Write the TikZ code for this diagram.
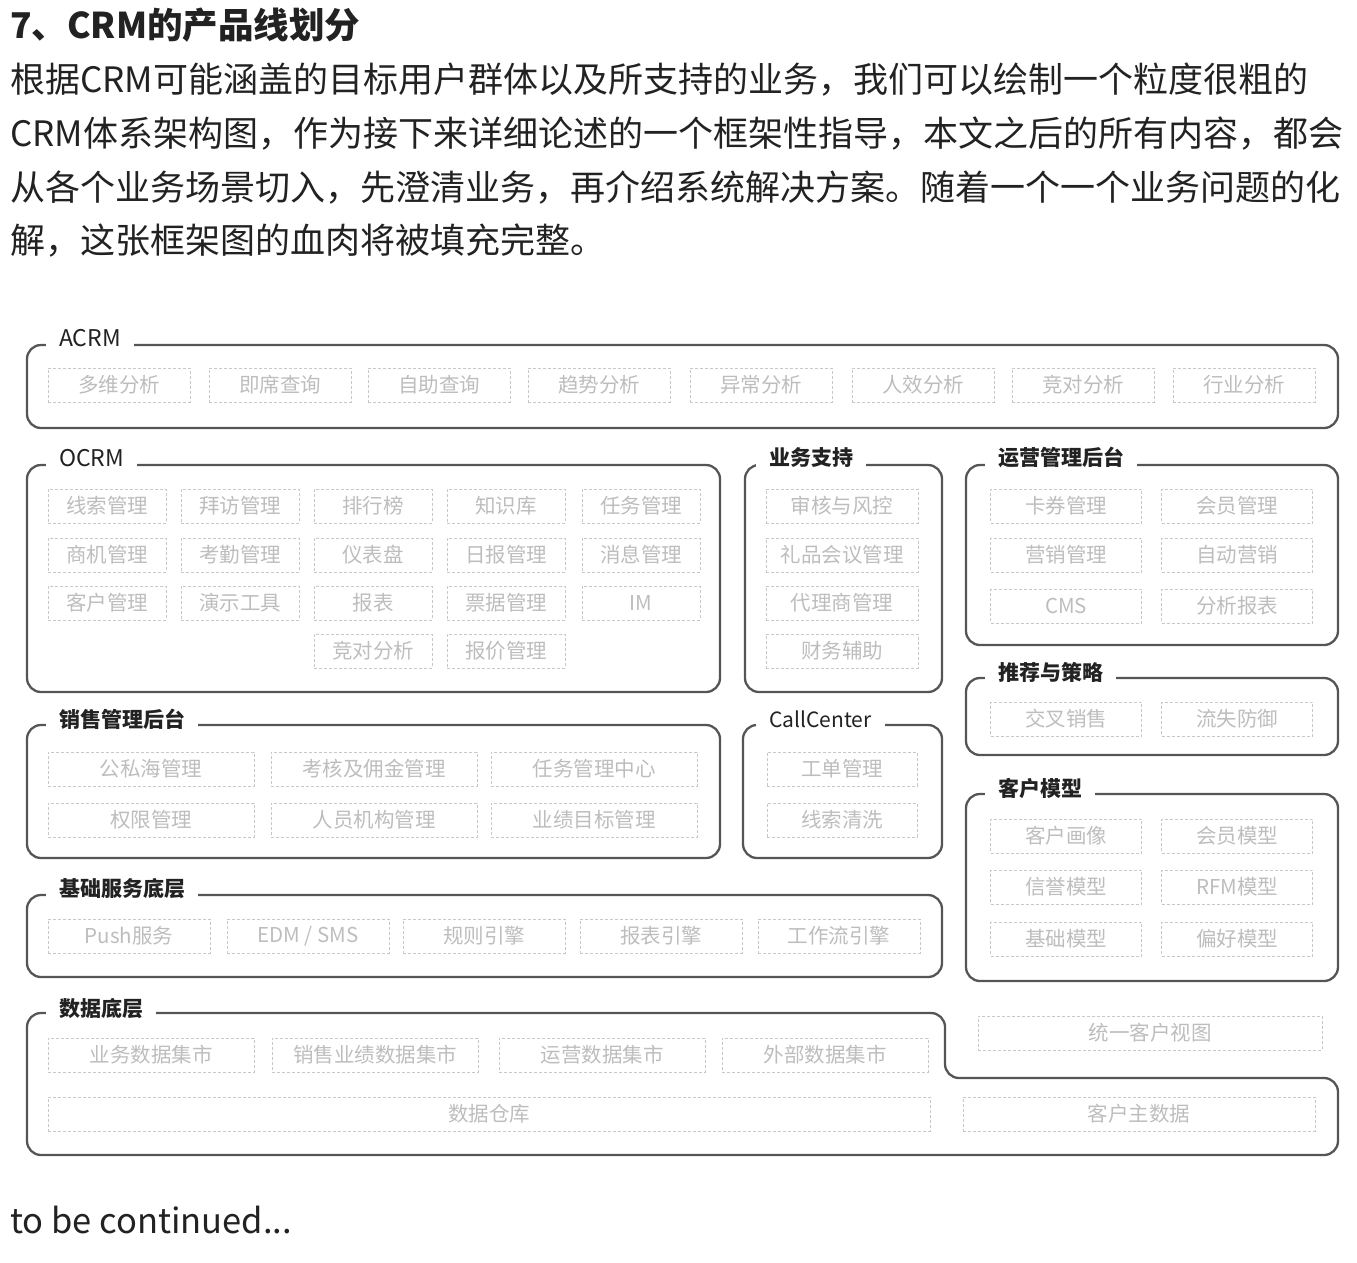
\documentclass[tikz,border=0pt]{standalone}
\usepackage{fontspec}
\setmainfont{Noto Sans CJK SC}
\usetikzlibrary{positioning}
\definecolor{framegray}{HTML}{555555}
\definecolor{boxgray}{HTML}{C8C8C8}
\definecolor{itemgray}{HTML}{BDBDBD}
\definecolor{inkgray}{HTML}{222222}

\begin{document}
\begin{tikzpicture}[x=1pt,y=-1pt,
    group/.style={draw=framegray,line width=2.3pt,rounded corners=14pt},
    grouptitle/.style={anchor=west,fill=white,inner xsep=13pt,inner ysep=2pt,
      text=inkgray,font=\fontsize{21}{21}\selectfont},
    item/.style={draw=boxgray,densely dashed,line width=0.9pt,text=itemgray,
      minimum height=34pt,inner sep=0pt,font=\fontsize{20.5}{20.5}\selectfont},
    ac/.style={item,minimum width=142pt},
    oc/.style={item,minimum width=118pt},
    bz/.style={item,minimum width=152pt},
    yy/.style={item,minimum width=151pt},
    xs/.style={item,minimum width=206pt},
    jc/.style={item,minimum width=162pt},
    bodytext/.style={anchor=west,inner sep=0pt,text=inkgray,font=\fontsize{35}{35}\selectfont}]
  \useasboundingbox (0,0) rectangle (1357,1262);

  % text around the picture
  \node[bodytext,font=\fontsize{35.5}{35.5}\selectfont\bfseries] (head) at (10,25) {7、CRM的产品线划分};
  \node[bodytext] (line1) at (10,80) {根据CRM可能涵盖的目标用户群体以及所支持的业务，我们可以绘制一个粒度很粗的};
  \node[bodytext] (line2) at (10,134) {CRM体系架构图，作为接下来详细论述的一个框架性指导，本文之后的所有内容，都会};
  \node[bodytext] (line3) at (10,188) {从各个业务场景切入，先澄清业务，再介绍系统解决方案。随着一个一个业务问题的化};
  \node[bodytext] (line4) at (10,241) {解，这张框架图的血肉将被填充完整。};
  \node[bodytext,font=\fontsize{34.5}{34.5}\selectfont] (tail) at (10,1220) {to be continued...};

  % group frames
  \draw[group] (27,345) rectangle (1338,428);
  \draw[group] (27,465) rectangle (720,692);
  \draw[group] (745,465) rectangle (942,692);
  \draw[group] (966,465) rectangle (1338,645);
  \draw[group] (966,678) rectangle (1338,755);
  \draw[group] (966,794) rectangle (1338,981);
  \draw[group] (27,725) rectangle (720,858);
  \draw[group] (743,725) rectangle (942,858);
  \draw[group] (27,895) rectangle (942,977);
  \draw[group] (27,1155) -- (27,1013) -- (945,1013) -- (945,1078) -- (1338,1078)
    -- (1338,1155) -- cycle;

  \node[grouptitle,font=\fontsize{23}{23}\selectfont] (t-acrm) at (46,338) {ACRM};
  \node[grouptitle,font=\fontsize{23}{23}\selectfont] (t-ocrm) at (46,458) {OCRM};
  \node[grouptitle,font=\fontsize{21}{21}\selectfont\bfseries] (t-bz) at (756,458) {业务支持};
  \node[grouptitle,font=\fontsize{21}{21}\selectfont\bfseries] (t-yy) at (985,457) {运营管理后台};
  \node[grouptitle,font=\fontsize{21}{21}\selectfont\bfseries] (t-tj) at (985,672) {推荐与策略};
  \node[grouptitle,font=\fontsize{21}{21}\selectfont\bfseries] (t-kh) at (985,788) {客户模型};
  \node[grouptitle,font=\fontsize{21}{21}\selectfont\bfseries] (t-xs) at (46,719) {销售管理后台};
  \node[grouptitle] (t-cc) at (756,719) {CallCenter};
  \node[grouptitle,font=\fontsize{21}{21}\selectfont\bfseries] (t-jc) at (46,889) {基础服务底层};
  \node[grouptitle,font=\fontsize{21}{21}\selectfont\bfseries] (t-sj) at (46,1009) {数据底层};

  % ACRM
  \node[ac] (acrm1) at (119,385) {多维分析};
  \node[ac] (acrm2) at (280,385) {即席查询};
  \node[ac] (acrm3) at (439,385) {自助查询};
  \node[ac] (acrm4) at (599,385) {趋势分析};
  \node[ac] (acrm5) at (761,385) {异常分析};
  \node[ac] (acrm6) at (923,385) {人效分析};
  \node[ac] (acrm7) at (1083,385) {竞对分析};
  \node[ac] (acrm8) at (1244,385) {行业分析};

  % OCRM
  \node[oc] (ocrm11) at (107,506) {线索管理};
  \node[oc] (ocrm12) at (240,506) {拜访管理};
  \node[oc] (ocrm13) at (373,506) {排行榜};
  \node[oc] (ocrm14) at (506,506) {知识库};
  \node[oc] (ocrm15) at (641,506) {任务管理};
  \node[oc] (ocrm21) at (107,555) {商机管理};
  \node[oc] (ocrm22) at (240,555) {考勤管理};
  \node[oc] (ocrm23) at (373,555) {仪表盘};
  \node[oc] (ocrm24) at (506,555) {日报管理};
  \node[oc] (ocrm25) at (641,555) {消息管理};
  \node[oc] (ocrm31) at (107,603) {客户管理};
  \node[oc] (ocrm32) at (240,603) {演示工具};
  \node[oc] (ocrm33) at (373,603) {报表};
  \node[oc] (ocrm34) at (506,603) {票据管理};
  \node[oc] (ocrm35) at (641,603) {IM};
  \node[oc] (ocrm43) at (373,651) {竞对分析};
  \node[oc] (ocrm44) at (506,651) {报价管理};

  % 业务支持
  \node[bz] (bz1) at (842,506) {审核与风控};
  \node[bz] (bz2) at (842,555) {礼品会议管理};
  \node[bz] (bz3) at (842,603) {代理商管理};
  \node[bz] (bz4) at (842,651) {财务辅助};

  % 运营管理后台
  \node[yy] (yy11) at (1066,506) {卡券管理};
  \node[yy] (yy12) at (1237,506) {会员管理};
  \node[yy] (yy21) at (1066,555) {营销管理};
  \node[yy] (yy22) at (1237,555) {自动营销};
  \node[yy] (yy31) at (1066,606) {CMS};
  \node[yy] (yy32) at (1237,606) {分析报表};

  % 推荐与策略
  \node[yy] (tj1) at (1066,719) {交叉销售};
  \node[yy] (tj2) at (1237,719) {流失防御};

  % 客户模型
  \node[yy] (kh11) at (1066,836) {客户画像};
  \node[yy] (kh12) at (1237,836) {会员模型};
  \node[yy] (kh21) at (1066,887) {信誉模型};
  \node[yy] (kh22) at (1237,887) {RFM模型};
  \node[yy] (kh31) at (1066,939) {基础模型};
  \node[yy] (kh32) at (1237,939) {偏好模型};

  % 销售管理后台
  \node[xs] (xs11) at (151,769) {公私海管理};
  \node[xs] (xs12) at (374,769) {考核及佣金管理};
  \node[xs] (xs13) at (594,769) {任务管理中心};
  \node[xs] (xs21) at (151,820) {权限管理};
  \node[xs] (xs22) at (374,820) {人员机构管理};
  \node[xs] (xs23) at (594,820) {业绩目标管理};

  % CallCenter
  \node[yy,minimum width=150pt] (cc1) at (842,769) {工单管理};
  \node[yy,minimum width=150pt] (cc2) at (842,820) {线索清洗};

  % 基础服务底层
  \node[jc] (jc1) at (129,936) {Push服务};
  \node[jc] (jc2) at (308,936) {EDM / SMS};
  \node[jc] (jc3) at (484,936) {规则引擎};
  \node[jc] (jc4) at (661,936) {报表引擎};
  \node[jc] (jc5) at (839,936) {工作流引擎};

  % 数据底层
  \node[xs] (sj1) at (151,1055) {业务数据集市};
  \node[xs] (sj2) at (375,1055) {销售业绩数据集市};
  \node[xs] (sj3) at (602,1055) {运营数据集市};
  \node[xs] (sj4) at (825,1055) {外部数据集市};
  \node[item,minimum width=882pt] (dw) at (489,1114) {数据仓库};
  \node[item,minimum width=352pt] (mdm) at (1139,1114) {客户主数据};
  \node[item,minimum width=344pt] (view) at (1150,1033) {统一客户视图};
\end{tikzpicture}
\end{document}
